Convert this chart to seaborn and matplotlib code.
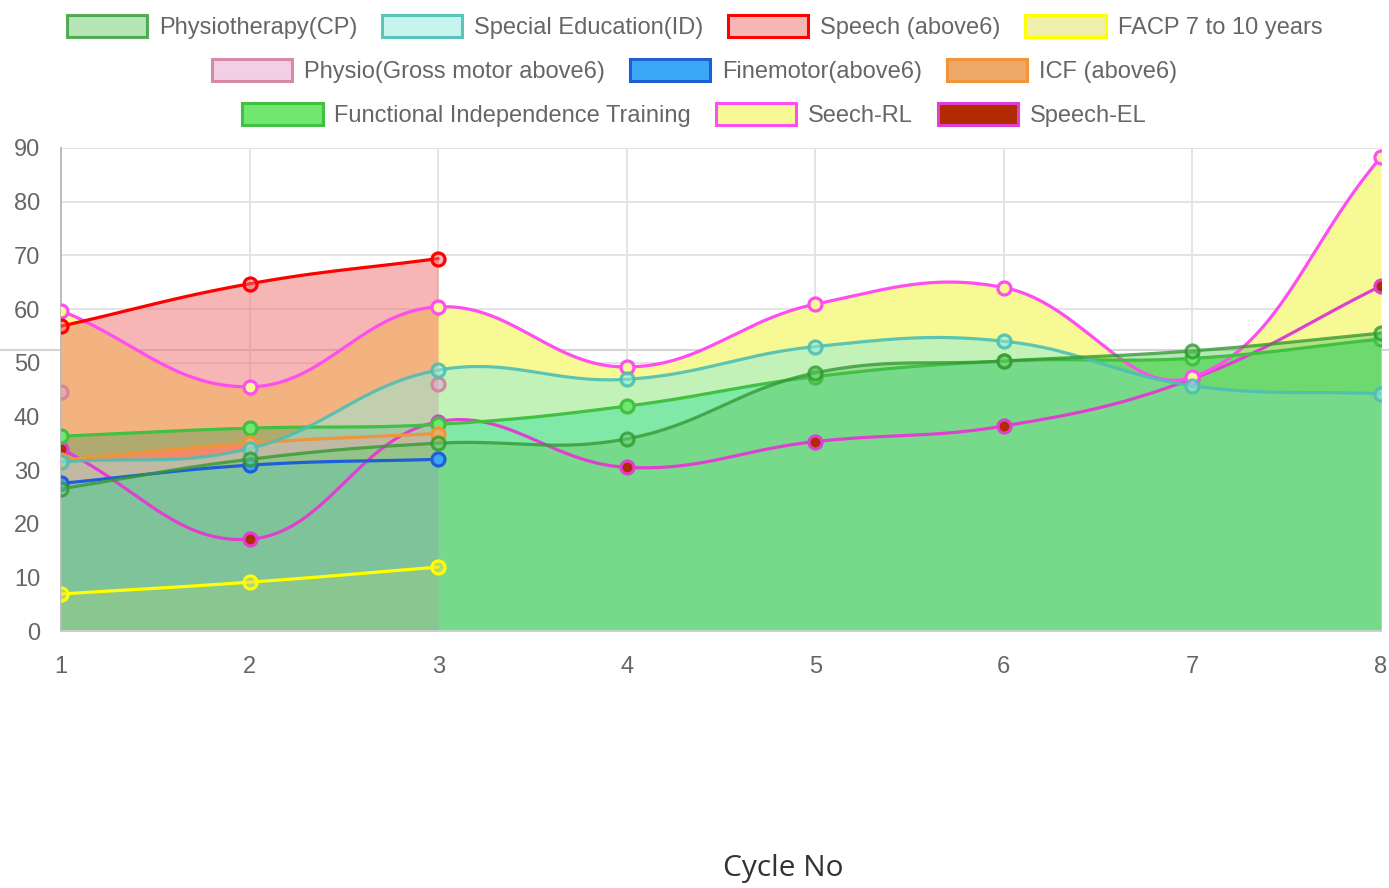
import numpy as np
import pandas as pd
import matplotlib
matplotlib.use("Agg")
from matplotlib import pyplot as plt
from matplotlib.patches import Patch
from matplotlib.lines import Line2D
import seaborn as sns

# data
cycles = [1, 2, 3, 4, 5, 6, 7, 8]
labels = ["Physiotherapy(CP)", "Special Education(ID)", "Speech (above6)", "FACP 7 to 10 years",
          "Physio(Gross motor above6)", "Finemotor(above6)", "ICF (above6)",
          "Functional Independence Training", "Seech-RL", "Speech-EL"]
physio_cp = [26.5, 32.0, 35.0, 35.8, 48.1, 50.3, 52.2, 55.5]
special_ed = [31.5, 34.0, 48.6, 46.9, 53.0, 54.0, 45.7, 44.2]
speech_above6 = [56.8, 64.7, 69.4]
facp = [6.9, 9.1, 11.9]
physio_gm = [44.5, np.nan, 46.0]
finemotor = [27.5, 30.9, 32.0]
icf = [31.8, 35.0, 36.8]
fit = [36.3, 37.8, 38.5, 41.9, 47.4, 50.3, 50.8, 54.4]
seech_rl = [59.7, 45.5, 60.4, 49.2, 60.9, 64.0, 47.3, 88.3]
speech_el = [33.9, 17.1, 39.0, 30.5, 35.3, 38.2, 47.0, 64.3]
series = [physio_cp, special_ed, speech_above6, facp, physio_gm, finemotor, icf, fit, seech_rl, speech_el]

# styles
fills = [(0.43, 0.80, 0.43, 0.5), (0.57, 0.92, 0.87, 0.5), (0.94, 0.43, 0.43, 0.5), (0.88, 0.88, 0.37, 0.5),
         (0.90, 0.63, 0.82, 0.5), "#3aa8f5", "#f0a868", "#70e870", "#f7fa94", "#b22a00"]
borders = [(0.20, 0.60, 0.20, 0.8), (0.30, 0.75, 0.70, 0.9), "#ff0000", "#ffff00",
           (0.83, 0.50, 0.62, 0.9), "#1f5fd6", "#f0953a", "#42c042", "#ff4df0", "#e040d0"]
do_fill = [True, True, True, True, False, True, True, True, True, False]
do_line = [True, True, True, True, False, True, True, True, True, True]

W, H = 1389, 888
L, R, T, B = 61, 1381, 148, 631
SX = (R - L) / 7
SY = (B - T) / 90
TENSION = 0.4


def smooth(xs, ys):
    pts = np.column_stack([(np.asarray(xs, float) - 1) * SX, np.asarray(ys, float) * SY])
    n = len(pts)
    cp_in, cp_out = [], []
    for i in range(n):
        prev, cur, nxt = pts[max(i - 1, 0)], pts[i], pts[min(i + 1, n - 1)]
        d01 = np.hypot(*(cur - prev))
        d12 = np.hypot(*(nxt - cur))
        tot = d01 + d12
        s01 = d01 / tot if tot else 0
        s12 = d12 / tot if tot else 0
        a = cur - TENSION * s01 * (nxt - prev)
        b = cur + TENSION * s12 * (nxt - prev)
        lo, hi = np.array([0, 0]), np.array([7 * SX, 90 * SY])
        cp_in.append(np.clip(a, lo, hi))
        cp_out.append(np.clip(b, lo, hi))
    t = np.linspace(0, 1, 40)[:, None]
    segs = []
    for i in range(n - 1):
        p0, p1, p2, p3 = pts[i], cp_out[i], cp_in[i + 1], pts[i + 1]
        c = (1 - t) ** 3 * p0 + 3 * (1 - t) ** 2 * t * p1 + 3 * (1 - t) * t ** 2 * p2 + t ** 3 * p3
        segs.append(c if i == 0 else c[1:])
    c = np.vstack(segs)
    return c[:, 0] / SX + 1, c[:, 1] / SY


sns.set_style("white")
plt.rcParams["font.family"] = ["Liberation Sans", "DejaVu Sans"]

fig = plt.figure(figsize=(W / 100, H / 100), dpi=100)
fig.patch.set_facecolor("white")
fig.add_artist(Line2D([0, 1], [1 - 350 / H] * 2, transform=fig.transFigure, color="#d4d4d4", lw=1.5, zorder=-1))
ax = fig.add_axes([L / W, 1 - B / H, (R - L) / W, (B - T) / H])
ax.patch.set_alpha(0)

for i in reversed(range(len(series))):
    ys = series[i]
    xs = cycles[:len(ys)]
    k = 9 - i
    if do_fill[i]:
        cx, cy = smooth(xs, ys)
        ax.fill_between(cx, 0, cy, color=fills[i], lw=0, zorder=1 + k * 0.01)
    if do_line[i]:
        cx, cy = smooth(xs, ys)
        df = pd.DataFrame({"x": cx, "y": cy})
        sns.lineplot(data=df, x="x", y="y", sort=False, estimator=None, color=borders[i],
                     lw=2.3, ax=ax, zorder=3 + k * 0.1)
    pts = pd.DataFrame({"x": xs, "y": ys}).dropna()
    sns.scatterplot(data=pts, x="x", y="y", s=88, color=fills[i], edgecolor=borders[i],
                    linewidth=2.3, ax=ax, zorder=3.05 + k * 0.1, legend=False)

ax.set_xlim(1, 8)
ax.set_ylim(0, 90)
ax.set_xticks(cycles)
ax.set_yticks(range(0, 91, 10))
ax.set_xlabel("")
ax.set_ylabel("")
ax.grid(True, color="#e2e2e2", lw=1.3)
ax.set_axisbelow(True)
for s in ["top", "right"]:
    ax.spines[s].set_visible(False)
ax.spines["left"].set_color("#b8b8b8")
ax.spines["left"].set_linewidth(1.3)
ax.spines["bottom"].set_color("#d0d0d0")
ax.spines["bottom"].set_linewidth(1.3)
ax.tick_params(axis="both", length=13, width=1.3, color="#e2e2e2", labelcolor="#666666", labelsize=17)
ax.tick_params(axis="y", pad=2)
ax.tick_params(axis="x", pad=5)

rows = [[0, 1, 2, 3], [4, 5, 6], [7, 8, 9]]
for row, yc in zip(rows, [27, 71, 115]):
    handles = [Patch(facecolor=fills[i], edgecolor=borders[i], linewidth=2.2) for i in row]
    fig.legend(handles, [labels[i] for i in row], loc="center", bbox_to_anchor=(0.5, 1 - yc / H),
               ncol=len(row), frameon=False, fontsize=17, handlelength=3.4, handleheight=1.05,
               handletextpad=0.5, columnspacing=1.05, borderpad=0, labelcolor="#666666")

fig.text(783 / W, 1 - 868 / H, "Cycle No", ha="center", va="center", fontsize=21.5,
         family="Open Sans", color="#333333")

fig.savefig("out.png", dpi=100)
